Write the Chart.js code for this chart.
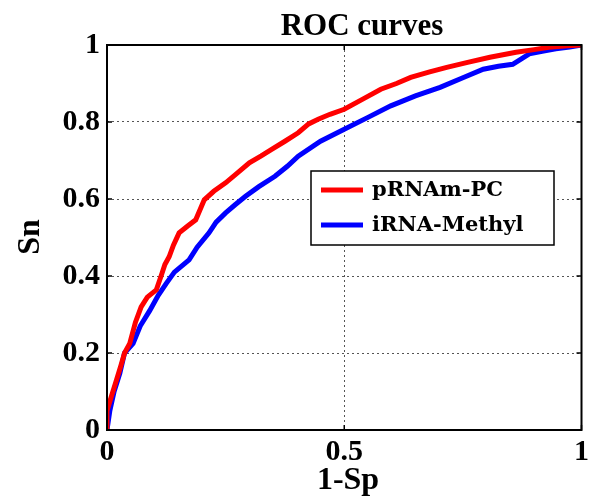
<!DOCTYPE html>
<html>
<head>
<meta charset="utf-8">
<script src="https://cdn.jsdelivr.net/npm/chart.js@4/dist/chart.umd.min.js"></script>
<style>
  html, body { margin: 0; padding: 0; background: #fff; }
  #wrap { width: 593px; height: 496px; }
</style>
</head>
<body>
<div id="wrap"><canvas id="roc" width="593" height="496"></canvas></div>
<script>
// values (1-Sp, Sn)
var seriesNames = ['pRNAm-PC', 'iRNA-Methyl'];
var seriesColors = ['#ff0000', '#0000ff'];

var pcFpr = [0, 0, 0.01, 0.02, 0.03, 0.037, 0.048, 0.06, 0.072, 0.085, 0.104, 0.114, 0.122, 0.131, 0.14, 0.152, 0.17, 0.187, 0.205, 0.225, 0.25, 0.275, 0.3, 0.325, 0.347, 0.375, 0.403, 0.425, 0.445, 0.47, 0.5, 0.54, 0.577, 0.61, 0.64, 0.68, 0.716, 0.76, 0.807, 0.862, 0.9, 0.931, 0.97, 1];
var pcTpr = [0, 0.05, 0.09, 0.13, 0.17, 0.2, 0.225, 0.28, 0.32, 0.345, 0.364, 0.40, 0.43, 0.45, 0.48, 0.512, 0.53, 0.546, 0.598, 0.62, 0.642, 0.668, 0.694, 0.712, 0.729, 0.75, 0.772, 0.795, 0.807, 0.82, 0.833, 0.86, 0.885, 0.9, 0.916, 0.93, 0.942, 0.955, 0.968, 0.981, 0.988, 0.994, 0.998, 1];

var meFpr = [0, 0.006, 0.015, 0.027, 0.037, 0.055, 0.07, 0.09, 0.108, 0.125, 0.142, 0.173, 0.19, 0.215, 0.23, 0.25, 0.27, 0.292, 0.32, 0.354, 0.38, 0.403, 0.45, 0.5, 0.55, 0.598, 0.65, 0.702, 0.75, 0.793, 0.825, 0.855, 0.89, 0.92, 0.946, 0.975, 1];
var meTpr = [0, 0.05, 0.1, 0.147, 0.2, 0.225, 0.27, 0.31, 0.35, 0.381, 0.41, 0.442, 0.475, 0.512, 0.54, 0.564, 0.585, 0.607, 0.632, 0.659, 0.685, 0.711, 0.75, 0.781, 0.812, 0.842, 0.868, 0.89, 0.915, 0.937, 0.945, 0.95, 0.977, 0.984, 0.99, 0.995, 1];

var xTicks = [0, 0.5, 1];
var yTicks = [0, 0.2, 0.4, 0.6, 0.8, 1];

function pts(xs, ys) {
    return xs.map(function (x, i) { return { x: x, y: ys[i] }; });
}

var serif = '"Liberation Serif", "Times New Roman", serif';

// title, axis titles, box, inward ticks and legend
var decor = {
    id: 'decor',
    afterDraw: function (chart) {
        var ctx = chart.ctx;
        var a = chart.chartArea;
        var xs = chart.scales.x, ys = chart.scales.y;
        ctx.save();
        ctx.strokeStyle = '#000';
        ctx.lineWidth = 2;
        ctx.strokeRect(a.left, a.top, a.right - a.left, a.bottom - a.top);

        ctx.lineWidth = 1.5;
        ctx.beginPath();
        xTicks.forEach(function (t) {
            var px = xs.getPixelForValue(t);
            ctx.moveTo(px, a.bottom); ctx.lineTo(px, a.bottom - 5);
            ctx.moveTo(px, a.top); ctx.lineTo(px, a.top + 5);
        });
        yTicks.forEach(function (t) {
            var py = ys.getPixelForValue(t);
            ctx.moveTo(a.left, py); ctx.lineTo(a.left + 5, py);
            ctx.moveTo(a.right, py); ctx.lineTo(a.right - 5, py);
        });
        ctx.stroke();

        ctx.fillStyle = '#000';
        ctx.textAlign = 'center';
        ctx.textBaseline = 'alphabetic';
        ctx.font = 'bold 31px ' + serif;
        ctx.fillText('ROC curves', 362, 35);

        ctx.font = 'bold 32px ' + serif;
        ctx.fillText('1-Sp', 348, 489);

        ctx.save();
        ctx.translate(39, 237);
        ctx.rotate(-Math.PI / 2);
        ctx.fillText('Sn', 0, 0);
        ctx.restore();

        // legend
        var lx = 311, ly = 171, lw = 243, lh = 74;
        ctx.fillStyle = '#fff';
        ctx.fillRect(lx, ly, lw, lh);
        ctx.lineWidth = 1.5;
        ctx.strokeRect(lx, ly, lw, lh);
        ctx.textAlign = 'left';
        ctx.textBaseline = 'middle';
        ctx.font = 'bold 21px "DejaVu Serif", serif';
        chart.data.datasets.forEach(function (ds, i) {
            var y = 190 + i * 35;
            ctx.strokeStyle = ds.borderColor;
            ctx.lineWidth = 5;
            ctx.beginPath();
            ctx.moveTo(321, y); ctx.lineTo(363, y);
            ctx.stroke();
            ctx.fillStyle = '#000';
            ctx.fillText(ds.label, 372, y + 1);
        });
        ctx.restore();
    }
};

var ctx = document.getElementById('roc').getContext('2d');
var rocChart = new Chart(ctx, {
    type: 'scatter',
    data: {
        datasets: [{
            label: seriesNames[0],
            data: pts(pcFpr, pcTpr),
            borderColor: seriesColors[0],
            backgroundColor: seriesColors[0],
            showLine: true,
            borderWidth: 5,
            pointRadius: 0,
            tension: 0
        }, {
            label: seriesNames[1],
            data: pts(meFpr, meTpr),
            borderColor: seriesColors[1],
            backgroundColor: seriesColors[1],
            showLine: true,
            borderWidth: 5,
            pointRadius: 0,
            tension: 0
        }]
    },
    options: {
        responsive: false,
        animation: false,
        layout: { padding: { top: 45, right: 7, left: 0, bottom: 0 } },
        plugins: {
            legend: { display: false },
            title: { display: false },
            tooltip: { enabled: false }
        },
        scales: {
            x: {
                type: 'linear',
                min: 0,
                max: 1,
                afterBuildTicks: function (scale) {
                    scale.ticks = xTicks.map(function (v) { return { value: v }; });
                },
                afterFit: function (scale) { scale.height = 66; },
                ticks: {
                    color: '#000',
                    font: { family: serif, size: 30, weight: 'bold' },
                    padding: 4,
                    maxRotation: 0,
                    autoSkip: false,
                    callback: function (v) { return String(v); }
                },
                grid: {
                    color: '#555',
                    lineWidth: 1,
                    drawTicks: false
                },
                border: { display: false, dash: [2, 3] }
            },
            y: {
                type: 'linear',
                min: 0,
                max: 1,
                afterBuildTicks: function (scale) {
                    scale.ticks = yTicks.map(function (v) { return { value: v }; });
                },
                afterFit: function (scale) { scale.width = 107; },
                ticks: {
                    color: '#000',
                    font: { family: serif, size: 30, weight: 'bold' },
                    padding: 7,
                    autoSkip: false,
                    callback: function (v) { return String(v); }
                },
                grid: {
                    color: '#555',
                    lineWidth: 1,
                    drawTicks: false
                },
                border: { display: false, dash: [2, 3] }
            }
        }
    },
    plugins: [decor]
});
</script>
</body>
</html>
